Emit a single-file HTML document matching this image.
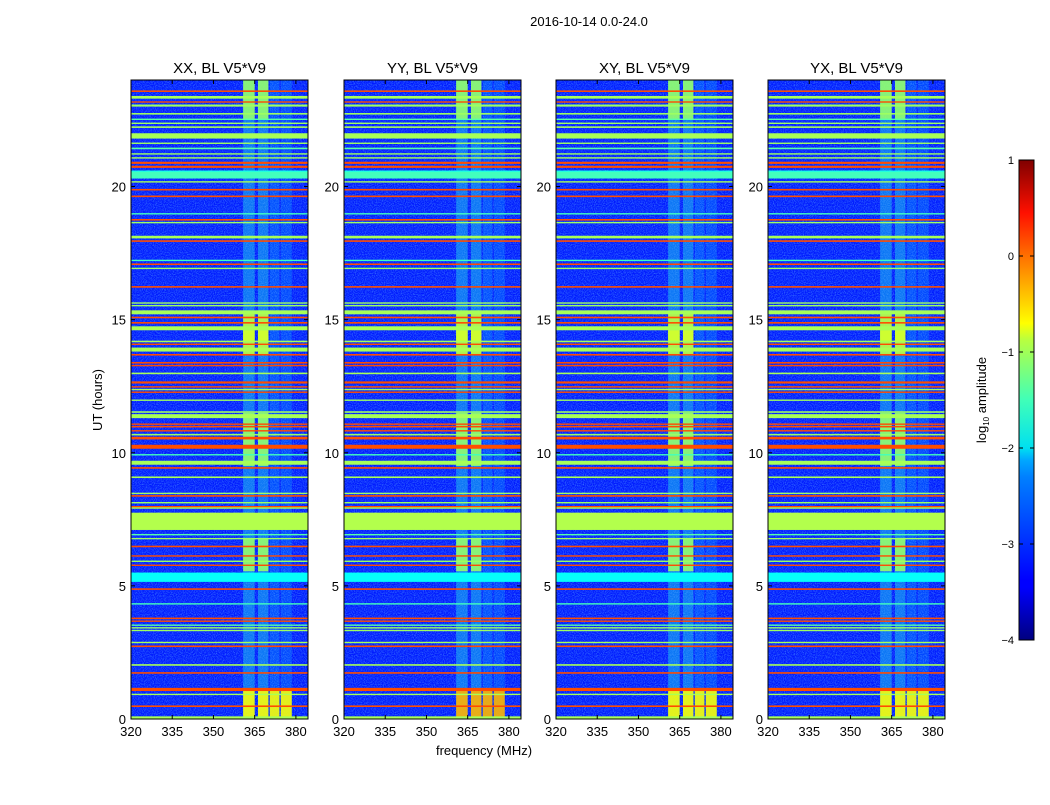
<!DOCTYPE html>
<html><head><meta charset="utf-8">
<style>
body{margin:0;background:#fff;font-family:"Liberation Sans",sans-serif;}
svg text{font-family:"Liberation Sans",sans-serif;fill:#000;}
</style></head>
<body>
<svg id="fig" width="1050" height="800" viewBox="0 0 1050 800" xmlns="http://www.w3.org/2000/svg">
<defs>
<filter id="noise" x="0" y="0" width="100%" height="100%">
<feTurbulence type="fractalNoise" baseFrequency="0.9" numOctaves="2" seed="3"/>
<feColorMatrix type="matrix" values="0 0 0 0 0.1  0 0 0 0 0.4  0 0 0 0 1  0 0 0 1.2 -0.45"/>
</filter>
<linearGradient id="jet" x1="0" y1="1" x2="0" y2="0">
<stop offset="0" stop-color="#00007f"/><stop offset="0.11" stop-color="#0000ff"/><stop offset="0.125" stop-color="#0000ff"/>
<stop offset="0.34" stop-color="#0080ff"/><stop offset="0.375" stop-color="#00a8ff"/><stop offset="0.4" stop-color="#00e0f0"/>
<stop offset="0.5" stop-color="#40ffb8"/><stop offset="0.625" stop-color="#b8ff40"/><stop offset="0.66" stop-color="#ffff00"/>
<stop offset="0.8" stop-color="#ff7000"/><stop offset="0.89" stop-color="#ff1000"/><stop offset="1" stop-color="#800000"/>
</linearGradient>
</defs>
<text x="589" y="26" font-size="13" text-anchor="middle">2016-10-14 0.0-24.0</text>
<text x="484" y="755" font-size="13" text-anchor="middle">frequency (MHz)</text>
<text transform="translate(102,400) rotate(-90)" font-size="13" text-anchor="middle">UT (hours)</text>
<g id="panels"></g>
<g id="cbar">
<rect x="1019" y="160" width="15" height="480" fill="url(#jet)" stroke="#000" stroke-width="1"/>
<text transform="translate(986,400) rotate(-90)" font-size="13" text-anchor="middle">log<tspan font-size="8" dy="3">10</tspan><tspan dy="-3"> amplitude</tspan></text>
</g>
</svg>
<script>
// ---- data ----
const panelTitles = ["XX, BL V5*V9","YY, BL V5*V9","XY, BL V5*V9","YX, BL V5*V9"];
const panelX = [131,344,556,768];
const xTicks = [320,335,350,365,380];
const yTicks = [0,5,10,15,20];
const cbTicks = [1,0,-1,-2,-3,-4];
// RFI time lines: start hour, thickness (hours), log10 amplitude
const lineT = [23.55,23.3,23.15,23.0,22.7,22.5,22.35,22.2,21.8,21.6,21.4,21.2,21.05,20.85,20.7,20.3,20.15,19.85,19.6,18.95,18.72,18.62,18.05,17.92,17.2,17.05,16.9,16.2,15.6,15.5,15.2,15.05,14.85,14.6,14.15,14.05,13.8,13.65,13.35,13.25,12.95,12.6,12.45,12.35,12.25,11.95,11.5,11.38,11.3,11.05,10.95,10.8,10.65,10.55,10.5,10.15,9.9,9.55,9.4,9.05,8.45,8.35,8.1,7.95,7.9,6.9,6.75,6.45,6.1,5.9,5.75,4.85,4.3,3.75,3.65,3.5,3.4,3.3,2.85,2.7,2.0,1.7,1.05,0.9,0.45,0.0];
const lineH = [0.06,0.1,0.05,0.08,0.06,0.05,0.05,0.06,0.2,0.05,0.06,0.05,0.05,0.08,0.08,0.25,0.05,0.06,0.06,0.05,0.06,0.05,0.1,0.06,0.05,0.06,0.05,0.06,0.05,0.05,0.15,0.06,0.06,0.15,0.06,0.05,0.15,0.06,0.06,0.05,0.06,0.08,0.05,0.05,0.05,0.05,0.06,0.05,0.15,0.05,0.06,0.05,0.06,0.05,0.06,0.15,0.05,0.15,0.06,0.06,0.05,0.06,0.05,0.05,0.05,0.05,0.05,0.06,0.05,0.05,0.05,0.06,0.05,0.06,0.05,0.05,0.05,0.05,0.05,0.06,0.06,0.06,0.12,0.05,0.06,0.1];
const lineV = [0,-1.3,0,-1.35,-1.35,-1.7,-1.35,-1.3,-1.3,-1.35,-1.7,-1.35,-1.3,0,0,-1.8,-1.3,0,0,-1.8,0,-1.35,-1.3,0,-1.8,0,-1.35,0,-1.35,-1.35,-1.3,0,0,-1.3,-1.3,0,-1.3,0,0,0,-1.3,0,0,-1.35,0,-1.35,-1.35,-1.7,-1.3,0,0,0,-1.35,0,0,0,-1.8,-1.3,0,-1.3,-1.35,0,-1.35,0,-1.3,-1.7,-1.35,0,0,-1.35,0,0,-1.8,0,0,-1.7,-1.35,-1.35,-1.3,0,-1.3,0,0,-1.3,0,-1.3];
// broad bands spanning all frequencies
const bandT0 = [7.1, 5.15, 20.3];
const bandT1 = [7.75, 5.5, 20.6];
const bandV  = [-1.25, -2.1, -2.0];
// RFI frequency columns (MHz)
const colF0 = [360.8, 366.2, 370.5, 374.5];
const colF1 = [365.0, 370.0, 374.0, 378.5];
const colV  = [-2.0, -2.0, -2.6, -2.7];
// time intervals where columns are bright
const actT0 = [0.0, 5.55, 9.5, 13.7, 22.5, 14.6];
const actT1 = [1.1, 6.8, 11.5, 15.3, 24.0, 14.2];
const actV  = [-0.9, -1.4, -1.4, -1.2, -1.4, -1.1];
// ---- axes ----
const W=177, TOP=80, BOT=719, F0=320, F1=384.4, T1=24;
function xs(px,f){return px+(f-F0)/(F1-F0)*W;}
function ys(t){return BOT-t/T1*(BOT-TOP);}
function jet(v){const t=Math.max(0,Math.min(1,(v+4)/5));
 const c=x=>Math.round(255*Math.max(0,Math.min(1,x)));
 return `rgb(${c(1.5-Math.abs(4*t-3))},${c(1.5-Math.abs(4*t-2))},${c(1.5-Math.abs(4*t-1))})`;}
const NS="http://www.w3.org/2000/svg";
function el(tag,attrs,parent){const e=document.createElementNS(NS,tag);for(const k in attrs)e.setAttribute(k,attrs[k]);parent.appendChild(e);return e;}
const root=document.getElementById('panels');
panelX.forEach((px,pi)=>{
 const g=el('g',{},root);
 
 
 const bg=el('rect',{x:px,y:TOP,width:W,height:BOT-TOP,fill:jet(-3.25)},g);
 
 
 colF0.forEach((f,i)=>{
  const r=el('rect',{x:xs(px,f),y:TOP,width:xs(px,colF1[i])-xs(px,f),height:BOT-TOP,fill:jet(colV[i]),opacity:0.4},g);
  
  
 });
 el('rect',{x:px,y:TOP,width:W,height:BOT-TOP,filter:'url(#noise)'},g);
 actT0.forEach((t0,i)=>{
  const lo=Math.min(t0,actT1[i]),hi=Math.max(t0,actT1[i]);
  const n=(i===0)?4:2;
  for(let c=0;c<n;c++){
   const r=el('rect',{x:xs(px,colF0[c]),y:ys(hi),width:xs(px,colF1[c])-xs(px,colF0[c]),height:ys(lo)-ys(hi),fill:jet(actV[i]+(pi===1&&i===0?0.4:0)),opacity:0.9},g);
   
   
  }
 });
 bandT0.forEach((t0,i)=>{
  const r=el('rect',{x:px,y:ys(bandT1[i]),width:W,height:ys(t0)-ys(bandT1[i]),fill:jet(bandV[i])},g);
  
  
 });
 lineT.forEach((t,i)=>{
  const h=Math.max(ys(t)-ys(t+lineH[i]),1.4);
  const r=el('rect',{x:px,y:ys(t+lineH[i]),width:W,height:h,fill:jet(lineV[i])},g);
  
  
 });
 el('rect',{x:px,y:TOP,width:W,height:BOT-TOP,fill:'none',stroke:'#000','stroke-width':1},g);
 const tt=el('text',{x:px+W/2,y:TOP-7,'font-size':15,'text-anchor':'middle'},g);
 tt.textContent=panelTitles[pi];
 
 
 xTicks.forEach(f=>{
  const x=xs(px,f);
  el('line',{x1:x,x2:x,y1:BOT,y2:BOT-4,stroke:'#000'},g);
  el('line',{x1:x,x2:x,y1:TOP,y2:TOP+4,stroke:'#000'},g);
  const l=el('text',{x:x,y:BOT+17,'font-size':13,'text-anchor':'middle'},g);
  l.textContent=f;
  
  
 });
 yTicks.forEach(t=>{
  const y=ys(t);
  el('line',{x1:px,x2:px+4,y1:y,y2:y,stroke:'#000'},g);
  el('line',{x1:px+W,x2:px+W-4,y1:y,y2:y,stroke:'#000'},g);
  const l=el('text',{x:px-5,y:y+5,'font-size':13,'text-anchor':'end'},g);
  l.textContent=t;
  
  
 });
});
const cb=document.getElementById('cbar');
cbTicks.forEach(v=>{
 const y=160+(1-v)/5*480;
 el('line',{x1:1019,x2:1023,y1:y,y2:y,stroke:'#000'},cb);
 el('line',{x1:1034,x2:1030,y1:y,y2:y,stroke:'#000'},cb);
 const l=el('text',{x:1014,y:y+4,'font-size':11,'text-anchor':'end'},cb);
 l.textContent=v<0?'\u2212'+(-v):String(v);
 
 
});
</script>
</body></html>
